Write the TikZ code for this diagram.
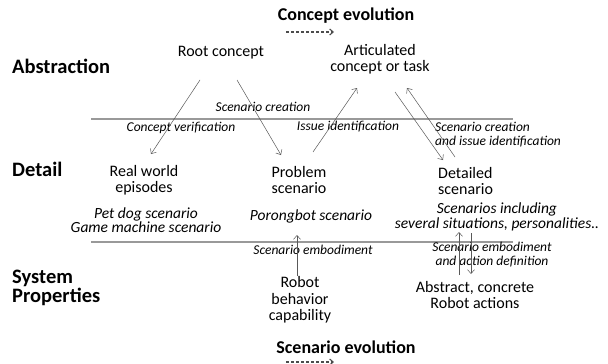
\documentclass[tikz,border=0pt]{standalone}
\usepackage{fontspec}
\setmainfont{Carlito}
\usetikzlibrary{arrows.meta}
\begin{document}
\begin{tikzpicture}[x=1pt,y=-1pt,
 lbl/.style={font=\fontsize{16}{16.5}\selectfont, align=center, inner sep=0pt},
 sec/.style={font=\fontsize{20.5}{19.5}\selectfont\bfseries, align=left, anchor=west, inner sep=0pt},
 ttl/.style={font=\fontsize{18}{18}\selectfont\bfseries, inner sep=0pt},
 sml/.style={font=\fontsize{13.5}{14}\selectfont\itshape, inner sep=0pt},
 ex/.style={font=\fontsize{15.5}{11.5}\selectfont\itshape, align=center, inner sep=0pt},
 conn/.style={draw=black!65, line width=0.5pt, -{Straight Barb[length=4pt,width=7pt]}},
 sepline/.style={draw=black!40, line width=1.4pt},
 evo/.style={draw=black!70, dash pattern=on 3pt off 2pt, line width=1.1pt, -{Straight Barb[length=3.5pt,width=6pt]}}
]
\useasboundingbox[fill=white] (0,0) rectangle (608,364);

% titles
\node[ttl] (t1) at (346,16) {Concept evolution};
\coordinate (t1a) at (286,32); \coordinate (t1b) at (334,32);
\draw[evo] (t1a) -- (t1b);
\node[ttl] (t2) at (346,347) {Scenario evolution};
\coordinate (t2a) at (286,362); \coordinate (t2b) at (334,362);
\draw[evo] (t2a) -- (t2b);

% section labels
\node[sec] (abs) at (12,66) {Abstraction};
\node[sec] (det) at (12,169) {Detail};
\node[sec] (sys) at (12,288) {System\\Properties};

% separators
\coordinate (s1a) at (91,119); \coordinate (s1b) at (513,119);
\coordinate (s2a) at (91,242); \coordinate (s2b) at (513,242);
\draw[sepline] (s1a) -- (s1b);
\draw[sepline] (s2a) -- (s2b);

% main nodes
\node[lbl] (root) at (221,53) {Root concept};
\node[lbl] (art) at (380,59) {Articulated\\concept or task};
\node[lbl] (rwe) at (144,180) {Real world\\episodes};
\node[lbl] (prob) at (299,180) {Problem\\scenario};
\node[lbl, align=left, anchor=west] (dets) at (438,181) {Detailed\\scenario};
\node[lbl] (rbc) at (300,300) {Robot\\behavior\\capability};
\node[lbl] (act) at (475,295) {Abstract, concrete\\Robot actions};

% examples
\node[ex] (ex1) at (146,220) {Pet dog scenario\\Game machine scenario};
\node[ex] (ex2) at (311,216) {Porongbot scenario};
\node[ex] (ex3) at (497,217) {Scenarios including\\several situations, personalities..};

% edge labels
\node[sml] (l1) at (263,107) {Scenario creation};
\node[sml] (l2) at (181,128) {Concept verification};
\node[sml] (l3) at (348,127) {Issue identification};
\node[sml, align=left, anchor=west] (l4) at (435,135) {Scenario creation\\and issue identification};
\node[sml] (l5) at (313,250) {Scenario embodiment};
\node[sml, align=center] (l6) at (492,255) {Scenario embodiment\\and action definition};

% connector end points
\coordinate (a1s) at (200,80);  \coordinate (a1e) at (151,154);
\coordinate (a2s) at (237,80);  \coordinate (a2e) at (281,155);
\coordinate (a3s) at (313,152); \coordinate (a3e) at (357,88);
\coordinate (a4s) at (395,92);  \coordinate (a4e) at (443,160);
\coordinate (a5s) at (455,157); \coordinate (a5e) at (407,88);
\coordinate (a6s) at (297,276); \coordinate (a6e) at (297,235);
\coordinate (a7s) at (459,275); \coordinate (a7e) at (459,232);
\coordinate (a8s) at (471,233); \coordinate (a8e) at (471,274);

\draw[conn] (a1s) -- (a1e);
\draw[conn] (a2s) -- (a2e);
\draw[conn] (a3s) -- (a3e);
\draw[conn] (a4s) -- (a4e);
\draw[conn] (a5s) -- (a5e);
\draw[conn] (a6s) -- (a6e);
\draw[conn] (a7s) -- (a7e);
\draw[conn] (a8s) -- (a8e);
\end{tikzpicture}
\end{document}
